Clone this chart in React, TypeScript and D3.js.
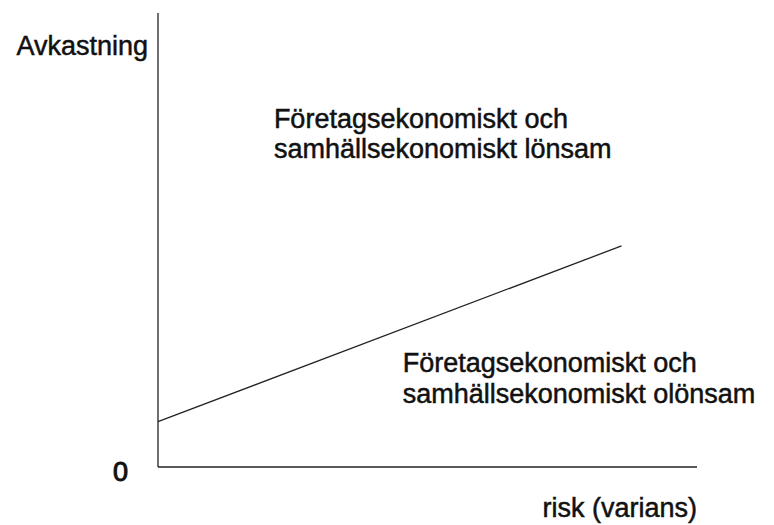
import React, { useEffect, useRef } from 'react';
import * as d3 from 'd3';

// axis extents (abstract units, 0-100)
const riskDomain: [number, number] = [0, 100];
const returnDomain: [number, number] = [0, 100];

// break-even line: risk -> required return
const breakEvenRisk = [0, 86];
const breakEvenReturn = [10, 48.7];

// region labels, anchored in data units
const labelRisk = [21.5, 45.4];
const labelReturn = [74.7, 20.9];
const labelLines = [
  ['Företagsekonomiskt och', 'samhällsekonomiskt lönsam'],
  ['Företagsekonomiskt och', 'samhällsekonomiskt olönsam'],
];

const yAxisTitle = 'Avkastning';
const xAxisTitle = 'risk (varians)';
const originLabel = '0';

const width = 774;
const height = 525;
const margin = { top: 13, right: 77, bottom: 58, left: 158 };

const App: React.FC = () => {
  const ref = useRef<SVGSVGElement>(null);

  useEffect(() => {
    if (!ref.current) return;
    const root = d3.select(ref.current);
    root.selectAll('*').remove();

    const x = d3.scaleLinear().domain(riskDomain).range([margin.left, width - margin.right]);
    const y = d3.scaleLinear().domain(returnDomain).range([height - margin.bottom, margin.top]);

    const g = root.append('g')
      .attr('font-family', '"Liberation Sans", Arial, Helvetica, sans-serif')
      .attr('font-size', 27)
      .attr('fill', '#111');

    // axes as plain lines
    g.append('line')
      .attr('x1', x(0)).attr('x2', x(0))
      .attr('y1', y(returnDomain[1])).attr('y2', y(0))
      .attr('stroke', '#222').attr('stroke-width', 1.3);

    g.append('line')
      .attr('x1', x(0)).attr('x2', x(riskDomain[1]))
      .attr('y1', y(0)).attr('y2', y(0))
      .attr('stroke', '#222').attr('stroke-width', 1.3);

    // break-even line
    const pts = breakEvenRisk.map((r, i) => [r, breakEvenReturn[i]] as [number, number]);
    const line = d3.line<[number, number]>()
      .x(d => x(d[0]))
      .y(d => y(d[1]));

    g.append('path')
      .datum(pts)
      .attr('fill', 'none')
      .attr('stroke', '#222')
      .attr('stroke-width', 1.3)
      .attr('d', line);

    // text group, slightly thickened like the scanned original
    const tg = g.append('g')
      .attr('stroke', '#111')
      .attr('stroke-width', 0.5);

    // axis titles
    tg.append('text')
      .attr('x', x(0) - 10)
      .attr('y', y(returnDomain[1]) + 42)
      .attr('text-anchor', 'end')
      .text(yAxisTitle);

    tg.append('text')
      .attr('x', x(0) - 30)
      .attr('y', y(0) + 14)
      .attr('text-anchor', 'end')
      .attr('stroke-width', 1)
      .text(originLabel);

    tg.append('text')
      .attr('x', x(riskDomain[1]))
      .attr('y', y(0) + 50)
      .attr('text-anchor', 'end')
      .text(xAxisTitle);

    // region labels
    labelLines.forEach((lines, i) => {
      const t = tg.append('text')
        .attr('x', x(labelRisk[i]))
        .attr('y', y(labelReturn[i]));
      lines.forEach((s, j) => {
        t.append('tspan')
          .attr('x', x(labelRisk[i]))
          .attr('dy', j === 0 ? 0 : 30.5)
          .text(s);
      });
    });
  }, []);

  return (
    <svg
      ref={ref}
      width={width}
      height={height}
      style={{ position: 'absolute', left: 0, top: 0, background: '#fff' }}
    />
  );
};

export default App;
